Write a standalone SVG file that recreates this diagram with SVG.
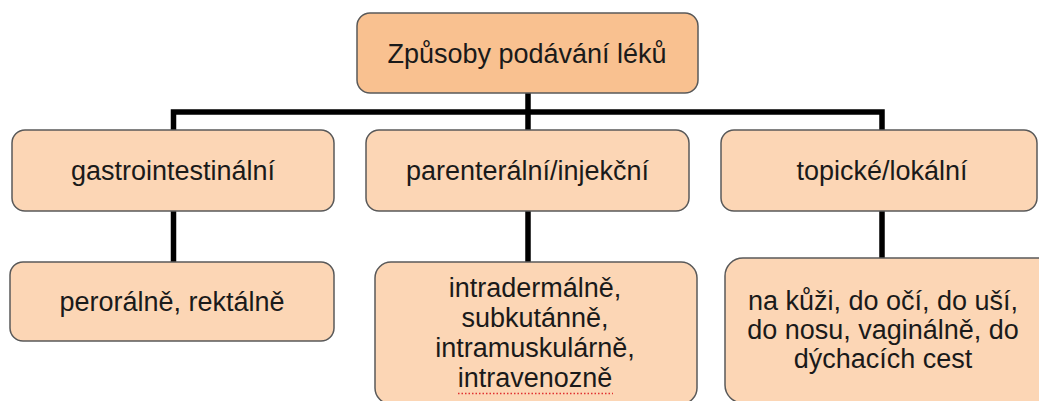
<svg xmlns="http://www.w3.org/2000/svg" width="1039" height="401" viewBox="0 0 1039 401">
<style>
.box{fill:#FCD6B5;stroke:#595959;stroke-width:1.5}
.top{fill:#F9C190;stroke:#595959;stroke-width:1.5}
.t{font-family:"Liberation Sans",Arial,sans-serif;font-size:27px;fill:#1a1a1a;text-anchor:middle}
.c{fill:none;stroke:#000;stroke-width:5.5;stroke-linejoin:miter;stroke-linecap:butt}
</style>
<rect width="1039" height="401" fill="#fff"/>
<g id="connectors">
<path class="c" d="M173.5,130 V112 H882 V130"/>
<path class="c" d="M528,93 V130"/>
<path class="c" d="M173.5,211 V262"/>
<path class="c" d="M528,211 V262"/>
<path class="c" d="M882,211 V258"/>
</g>
<g id="root">
<rect class="top" x="357" y="13" width="341" height="80" rx="13"/>
<text class="t" x="527" y="62.5">Způsoby podávání léků</text>
</g>
<g id="gastro">
<rect class="box" x="12" y="130" width="322" height="81" rx="13"/>
<text class="t" x="173" y="180">gastrointestinální</text>
</g>
<g id="parenteral">
<rect class="box" x="366" y="130" width="323" height="81" rx="13"/>
<text class="t" x="527.5" y="180">parenterální/injekční</text>
</g>
<g id="topicke">
<rect class="box" x="721" y="130" width="316" height="81" rx="13"/>
<text class="t" x="882" y="180">topické/lokální</text>
</g>
<g id="perorálně">
<rect class="box" x="10" y="262" width="324" height="79" rx="13"/>
<text class="t" x="172" y="311">perorálně, rektálně</text>
</g>
<g id="injekce">
<rect class="box" x="375" y="262" width="322" height="142" rx="16"/>
<text class="t" x="535" y="297">intradermálně,</text>
<text class="t" x="535" y="327">subkutánně,</text>
<text class="t" x="535" y="357">intramuskulárně,</text>
<text class="t" x="535" y="387">intravenozně</text>
<line x1="458" y1="393.5" x2="613" y2="393.5" stroke="#e03030" stroke-width="1.5" stroke-dasharray="1.5 2"/>
</g>
<g id="lokalni">
<rect class="box" x="725" y="258" width="330" height="145" rx="18"/>
<text class="t" x="883" y="310">na kůži, do očí, do uší,</text>
<text class="t" x="883" y="339">do nosu, vaginálně, do</text>
<text class="t" x="883" y="368">dýchacích cest</text>
</g>
</svg>
